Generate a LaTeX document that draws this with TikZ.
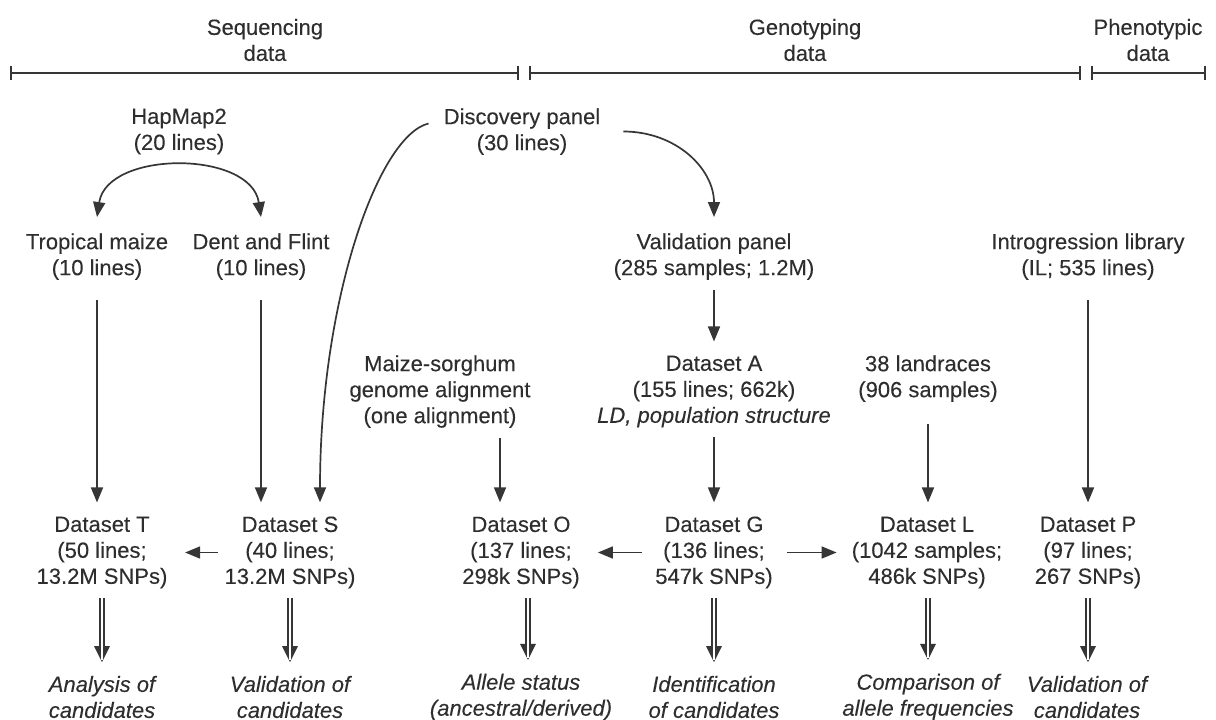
\documentclass[tikz,border=0pt]{standalone}
\usepackage{fontspec}
\setmainfont{Liberation Sans}[UprightFeatures={FakeBold=0.15},ItalicFeatures={FakeBold=0.15}]
\usetikzlibrary{arrows.meta}
\definecolor{ink}{HTML}{2E2E2E}
\definecolor{lin}{HTML}{363636}
\begin{document}
\begin{tikzpicture}[x=1pt,y=-1pt,
  every node/.style={font=\fontsize{22}{26}\selectfont, text=ink, align=center, inner sep=0pt},
  res/.style={font=\fontsize{22}{26}\selectfont\itshape},
  arr/.style={draw=lin, line width=1.7pt, -{Triangle[width=12pt,length=15pt]}},
  twoarr/.style={draw=lin, line width=1.7pt, {Triangle[width=12pt,length=15pt]}-{Triangle[width=12pt,length=15pt]}},
  dbl/.style={draw=lin, line width=5.5pt, -{Triangle[width=16pt,length=16pt,line width=0pt]},
    postaction={draw=white, line width=2.2pt, -, shorten >=16pt}},
  scalebar/.style={draw=lin, line width=1.7pt, {Bar[width=14pt]}-{Bar[width=14pt]}},
  vgap/.style={shorten <=#1, shorten >=14pt},
  dgap/.style={shorten <=9.6pt, shorten >=13.7pt}
]
\useasboundingbox (0,0) rectangle (1216,720);

% header
\node (seq) at (265,40) {Sequencing\\data};
\node (geno) at (805,40) {Genotyping\\data};
\node (pheno) at (1148,40) {Phenotypic\\data};
\coordinate (b1) at (10,73);   \coordinate (b2) at (519,73);
\coordinate (b3) at (529,73);  \coordinate (b4) at (1081,73);
\coordinate (b5) at (1091,73); \coordinate (b6) at (1206,73);
\draw[scalebar] (b1) -- (b2);
\draw[scalebar] (b3) -- (b4);
\draw[scalebar] (b5) -- (b6);

% sources
\node (hap) at (179,131.5) {HapMap2\\(20 lines)};
\node (disc) at (522,131.5) {Discovery panel\\(30 lines)};
\node (trop) at (97,256.5) {Tropical maize\\(10 lines)};
\node (dent) at (261,256.5) {Dent and Flint\\(10 lines)};
\node (valid) at (714,256.5) {Validation panel\\(285 samples; 1.2M)};
\node (intro) at (1088,256.5) {Introgression library\\(IL; 535 lines)};
\node (maize) at (440,391.5) {Maize-sorghum\\genome alignment\\(one alignment)};
\node (dsA) at (714,391.5) {Dataset A\\(155 lines; 662k)\\\textit{LD, population structure}};
\node (land) at (928,378.5) {38 landraces\\(906 samples)};

% datasets
\node (dT) at (102,552.5) {Dataset T\\(50 lines;\\13.2M SNPs)};
\node (dS) at (290,552.5) {Dataset S\\(40 lines;\\13.2M SNPs)};
\node (dO) at (521,552.5) {Dataset O\\(137 lines;\\298k SNPs)};
\node (dG) at (714,552.5) {Dataset G\\(136 lines;\\547k SNPs)};
\node (dL) at (927,552.5) {Dataset L\\(1042 samples;\\486k SNPs)};
\node (dP) at (1088,552.5) {Dataset P\\(97 lines;\\267 SNPs)};

% results
\node[res] (rT) at (102,697) {Analysis of\\candidates};
\node[res] (rS) at (290,697) {Validation of\\candidates};
\node[res] (rO) at (521,697) {Allele status\\(ancestral/derived)};
\node[res] (rG) at (714,697) {Identification\\of candidates};
\node[res] (rL) at (928,697) {Comparison of\\allele frequencies};
\node[res] (rP) at (1087,697) {Validation of\\candidates};

% curved connectors
\draw[twoarr] ([yshift=16pt]trop.north) .. controls +(10,-67) and +(-10,-67) .. ([yshift=16pt]dent.north);
\draw[arr] ([shift={(-15,-8)}]disc.west) .. controls +(-50,12) and +(0,-203) .. ([shift={(30,-14)}]dS.north);
\draw[arr] ([xshift=23pt]disc.east) .. controls +(53,0) and +(0,-48) .. ([yshift=16pt]valid.north);

% vertical connectors
\draw[arr, vgap=20.5pt] (trop.south) -- (trop.south |- dT.north);
\draw[arr, vgap=20.5pt] (dent.south) -- (dent.south |- dS.north);
\draw[arr, vgap=10.5pt] (valid.south) -- (dsA.north);
\draw[arr, vgap=9.6pt] (dsA.south) -- (dsA.south |- dG.north);
\draw[arr, vgap=9.6pt] ([xshift=60pt]maize.south) -- ([xshift=60pt]maize.south |- dO.north);
\draw[arr, vgap=22pt] (land.south) -- (land.south |- dL.north);
\draw[arr, vgap=20.5pt] (intro.south) -- (intro.south |- dP.north);

% horizontal connectors
\draw[arr, shorten <=6.5pt, shorten >=17.5pt] (dS.west) -- (dT.east);
\draw[arr, shorten <=13pt, shorten >=18pt] (dG.west) -- (dO.east);
\draw[arr, shorten <=14pt, shorten >=15pt] (dG.east) -- (dL.west);

% double arrows
\draw[dbl, dgap] (dT.south) -- (rT.north);
\draw[dbl, dgap] (dS.south) -- (rS.north);
\draw[dbl, dgap] ([xshift=7pt]dO.south) -- ([xshift=7pt]dO.south |- rO.north);
\draw[dbl, dgap] (dG.south) -- (dG.south |- rG.north);
\draw[dbl, dgap] ([xshift=1pt]dL.south) -- ([xshift=1pt]dL.south |- rL.north);
\draw[dbl, dgap] (dP.south) -- (dP.south |- rP.north);
\end{tikzpicture}
\end{document}
